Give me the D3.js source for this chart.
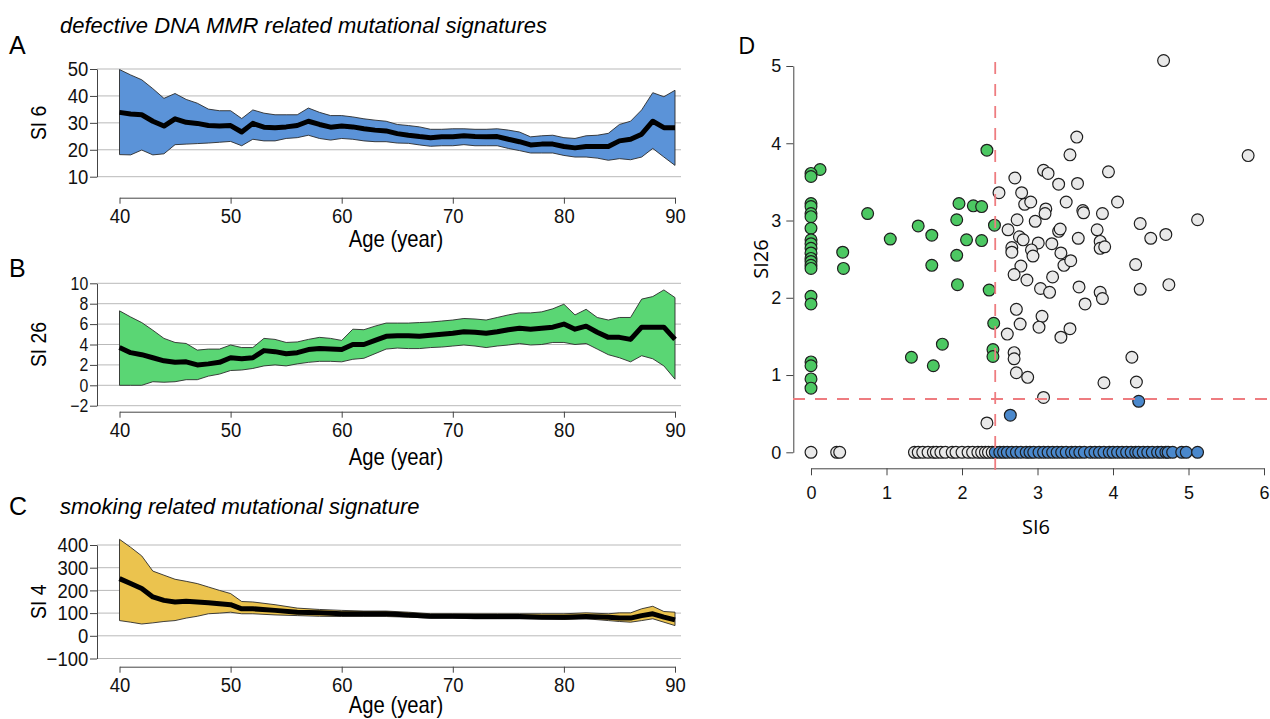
<!DOCTYPE html>
<html>
<head>
  <meta charset="UTF-8">
  <title>Mutational signatures</title>
  <script src="https://d3js.org/d3.v7.min.js"></script>
  <style>
    body { margin: 0; background: #fff; }
    .narrow { font-family: "Liberation Sans Narrow", "Arial Narrow", "Liberation Sans", sans-serif; }
    .open { font-family: "Open Sans", "DejaVu Sans", sans-serif; }
  </style>
</head>
<body>
  <div id="chart"></div>
  <script>
    // ---- data ----
    const ages = [40,41,42,43,44,45,46,47,48,49,50,51,52,53,54,55,56,57,58,59,60,61,62,63,64,65,66,67,68,69,70,
                  71,72,73,74,75,76,77,78,79,80,81,82,83,84,85,86,87,88,89,90];
    const ageTicks = [40, 50, 60, 70, 80, 90];

    // A: SI 6
    const si6Mean = [33.9,33.3,33.0,30.6,28.8,31.5,30.2,29.8,29.0,28.8, 29.0,26.6,29.8,28.4,28.2,28.5,29.0,30.6,29.4,28.4,
                     28.8,28.5,27.8,27.3,27.0,26.0,25.4,24.9,24.5,24.8, 24.8,25.2,24.9,24.8,24.9,23.9,23.0,21.8,22.1,22.1,
                     21.2,20.7,21.2,21.2,21.2,23.3,23.9,25.8,30.6,28.2, 28.2];
    const si6Hi = [49.8,47.8,46.0,42.7,39.1,40.9,38.7,37.3,35.1,34.5, 34.5,31.6,34.8,33.6,33.0,33.0,33.0,35.5,33.9,32.7,
                   32.7,32.2,31.5,31.0,30.6,29.4,29.0,28.5,27.6,27.6, 27.8,27.8,27.6,27.6,27.8,27.3,26.6,24.8,25.2,25.4,
                   24.5,24.2,25.2,25.4,26.1,29.4,30.6,34.8,41.2,39.7, 42.1];
    const si6Lo = [18.2,18.1,19.9,18.1,18.5,21.9,22.1,22.3,22.5,22.8, 23.1,21.5,23.9,23.3,23.3,24.2,24.5,25.4,24.2,23.6,
                   24.2,23.9,23.3,23.0,23.0,22.5,22.4,21.8,21.3,21.5, 21.5,21.9,21.5,21.5,21.5,20.5,19.7,18.8,18.8,18.8,
                   17.9,17.3,17.3,16.9,16.1,16.7,16.3,17.3,20.5,17.3, 14.2];
    const si6Ticks = [10, 20, 30, 40, 50];

    // B: SI 26
    const si26Mean = [3.7,3.2,3.0,2.7,2.4,2.25,2.3,2.0,2.1,2.25, 2.7,2.6,2.7,3.4,3.3,3.1,3.2,3.5,3.6,3.55,
                      3.5,4.0,4.0,4.4,4.8,4.85,4.85,4.8,4.9,5.0, 5.1,5.25,5.2,5.1,5.25,5.45,5.6,5.5,5.6,5.7,
                      6.0,5.5,5.8,5.2,4.7,4.7,4.5,5.7,5.7,5.7, 4.5];
    const si26Hi = [7.3,6.7,6.15,5.4,4.6,4.2,4.1,3.45,3.55,3.55, 3.95,3.7,3.7,4.6,4.5,4.2,4.25,4.5,4.7,4.6,
                    4.4,5.5,5.45,5.8,6.1,6.1,6.1,6.15,6.2,6.3, 6.4,6.55,6.5,6.4,6.65,6.9,7.1,7.1,7.2,7.5,
                    7.95,6.9,7.45,6.65,6.4,6.65,6.65,8.45,8.7,9.35, 8.6];
    const si26Lo = [0.0,0.0,0.0,0.35,0.3,0.35,0.55,0.55,0.9,1.1, 1.45,1.5,1.65,1.9,2.0,1.9,2.1,2.25,2.35,2.35,
                    2.3,2.55,2.65,3.1,3.55,3.65,3.6,3.6,3.7,3.75, 3.85,3.95,3.85,3.7,3.85,3.95,4.1,3.95,4.0,4.2,
                    4.2,4.0,4.1,3.55,3.0,2.7,2.3,2.9,2.6,1.9, 0.6];
    const si26Ticks = [-2, 0, 2, 4, 6, 8, 10];

    // C: SI 4
    const agesC = [40,41,42,43,44,45,46,47,48,49,50,51,52,54,56,58,60,62,64,66,68,70,72,74,76,78,80,82,84,85,86,87,88,89,90];
    const si4Mean = [252,230,208,171,156,149,152,149,146,141,137,119,119,112,104,101,97,97,97,92,86,86,85,85,85,82,82,85,82,78,78,89,97,82,70];
    const si4Hi = [425,390,352,285,267,249,240,230,215,200,186,151,149,137,122,116,112,109,109,104,97,97,97,97,97,97,97,101,97,101,101,119,130,107,104];
    const si4Lo = [67,60,52,57,63,67,78,86,97,100,104,97,97,92,89,86,85,85,85,82,78,78,75,75,75,75,72,75,67,63,60,67,75,60,45];
    const si4Ticks = [-100, 0, 100, 200, 300, 400];

    // D: SI6 vs SI26
    const grayPts = [[4.67,5.07],[3.52,4.08],[3.43,3.85],[5.79,3.84],[3.08,3.65],[3.14,3.61],[3.94,3.63],[2.70,3.55],
      [3.28,3.47],[3.53,3.48],[2.49,3.36],[2.79,3.36],[2.83,3.21],[2.91,3.24],[3.38,3.24],[3.11,3.15],[3.10,3.09],
      [3.60,3.13],[3.61,3.10],[3.86,3.09],[4.06,3.24],[2.73,3.01],[2.97,2.99],[2.61,2.88],[2.76,2.79],[2.81,2.75],
      [3.01,2.71],[3.19,2.70],[3.28,2.86],[3.30,2.89],[3.54,2.77],[3.79,2.88],[3.83,2.73],[3.83,2.64],[3.89,2.66],
      [4.36,2.96],[4.50,2.77],[4.70,2.82],[5.12,3.01],[2.66,2.65],[2.66,2.59],[2.92,2.62],[2.94,2.54],[3.31,2.58],
      [3.35,2.42],[3.44,2.48],[2.78,2.41],[2.69,2.30],[2.86,2.23],[3.20,2.27],[3.04,2.12],[3.16,2.07],[3.55,2.14],
      [3.63,1.92],[3.83,2.07],[3.86,1.99],[4.30,2.43],[4.36,2.11],[4.74,2.17],[2.72,1.85],[2.77,1.66],[2.60,1.53],
      [3.06,1.76],[3.02,1.62],[3.43,1.60],[3.31,1.49],[2.69,1.29],[2.69,1.21],[2.72,1.03],[2.87,0.97],[4.25,1.23],
      [3.88,0.90],[4.31,0.91],[3.08,0.71],[2.33,0.38]];
    const grayZero = [0,0.34,0.38,1.37,1.42,1.48,1.55,1.62,1.66,1.72,1.78,1.87,1.92,2.00,2.08,2.14,2.21,2.26,2.31,2.35,2.40];
    const greenPts = [[0.12,3.66],[0,3.61],[0,3.57],[0,3.22],[0,3.18],[0,3.09],[0,3.05],[0,2.90],[0,2.75],[0,2.70],
      [0,2.64],[0,2.58],[0,2.51],[0,2.47],[0,2.42],[0,2.38],[0,2.02],[0,1.92],[0,1.17],[0,1.12],[0,0.95],[0,0.83],
      [0.42,2.59],[0.43,2.38],[0.75,3.09],[1.05,2.76],[1.42,2.93],[1.60,2.81],[1.60,2.42],[1.93,3.01],[1.96,3.22],
      [1.93,2.55],[1.94,2.17],[2.06,2.75],[2.15,3.19],[2.26,3.18],[2.26,2.74],[2.33,3.91],[2.43,2.94],[2.36,2.10],
      [2.42,1.67],[1.74,1.40],[1.33,1.23],[1.62,1.12],[2.41,1.33],[2.41,1.24]];
    const bluePts = [[2.64,0.48],[4.34,0.66]];
    const blueZero = [2.44,2.50,2.55,2.60,2.66,2.72,2.78,2.85,2.90,2.95,3.02,3.08,3.14,3.20,3.26,3.32,3.38,3.45,3.50,
      3.56,3.62,3.70,3.76,3.82,3.88,3.95,4.00,4.06,4.12,4.18,4.24,4.30,4.34,4.40,4.46,4.52,4.59,4.64,4.70,4.73,4.79,
      4.91,4.97,5.12];
    const cutSI6 = 2.44, cutSI26 = 0.69;
    const dTicksX = [0, 1, 2, 3, 4, 5, 6];
    const dTicksY = [0, 1, 2, 3, 4, 5];

    // ---- drawing ----
    const W = 1270, H = 719;
    const narrowScale = "scale(0.88,1)";   // fake a condensed face
    const svg = d3.select("#chart").append("svg")
                  .attr("width", W).attr("height", H);

    const x = d3.scaleLinear().domain([40, 90]).range([119.5, 675]);

    function bandPanel(opt) {
      const g = svg.append("g").attr("class", "narrow");
      const y = d3.scaleLinear().domain(opt.domain).range([opt.yBottom, opt.yTop]);

      g.selectAll(".grid").data(opt.ticks).enter().append("line")
       .attr("x1", 97).attr("x2", 681)
       .attr("y1", d => y(d)).attr("y2", d => y(d))
       .attr("stroke", "#b9b9b9").attr("stroke-width", 1);

      const band = d3.area().x((d, i) => x(opt.ages[i]))
                     .y0((d, i) => y(opt.lo[i])).y1((d, i) => y(opt.hi[i]));
      g.append("path").datum(opt.mean).attr("d", band)
       .attr("fill", opt.color).attr("stroke", "#2b2b2b").attr("stroke-width", 0.9);

      const line = d3.line().x((d, i) => x(opt.ages[i])).y(d => y(d));
      g.append("path").datum(opt.mean).attr("d", line)
       .attr("fill", "none").attr("stroke", "#000").attr("stroke-width", 5)
       .attr("stroke-linejoin", "round");

      const ya = g.append("g").attr("transform", "translate(97,0)")
        .call(d3.axisLeft(y).tickValues(opt.ticks).tickSize(7).tickSizeOuter(0).tickPadding(3)
               .tickFormat(d => d < 0 ? "\u2212" + Math.abs(d) : d));
      const xa = g.append("g").attr("transform", `translate(0,${opt.axisY})`)
        .call(d3.axisBottom(x).tickValues(ageTicks).tickSize(6).tickSizeOuter(0).tickPadding(4));
      ya.selectAll("text").style("font-size", opt.yTickSize || "21px");
      xa.selectAll("text").style("font-size", "21px");
      [ya, xa].forEach(a => {
        a.selectAll("text").attr("fill", "#111").style("font-family", null)
         .attr("transform", narrowScale);
        a.selectAll("line").attr("stroke", "#444");
        a.select(".domain").attr("stroke", "#444");
      });

      g.append("text").attr("transform", `translate(46,${(opt.yTop + opt.yBottom) / 2}) rotate(-90) ${narrowScale}`)
       .attr("text-anchor", "middle").style("font-size", "22px").text(opt.ylab);
      g.append("text").attr("transform", `translate(396,${opt.ageY}) ${narrowScale}`)
       .attr("text-anchor", "middle").style("font-size", "23px").text("Age (year)");
      g.append("text").attr("x", 9).attr("y", opt.letterY)
       .style("font-size", "25px").text(opt.letter);
      if (opt.title) {
        g.append("text").attr("x", 60).attr("y", opt.titleY)
         .style("font-size", "22px").style("font-style", "italic").text(opt.title);
      }
    }

    bandPanel({ages: ages, mean: si6Mean, hi: si6Hi, lo: si6Lo, domain: [10, 50], ticks: si6Ticks,
               yTop: 69, yBottom: 176.7, axisY: 197.7, ageY: 247, color: "#5b93d8", ylab: "SI 6",
               letter: "A", letterY: 54, title: "defective DNA MMR related mutational signatures", titleY: 33});
    bandPanel({ages: ages, mean: si26Mean, hi: si26Hi, lo: si26Lo, domain: [-2, 10], ticks: si26Ticks,
               yTop: 283.3, yBottom: 405.7, axisY: 411.7, ageY: 465, color: "#5ad674", ylab: "SI 26",
               letter: "B", letterY: 277, yTickSize: "18px"});
    bandPanel({ages: agesC, mean: si4Mean, hi: si4Hi, lo: si4Lo, domain: [-100, 400], ticks: si4Ticks,
               yTop: 545, yBottom: 658.5, axisY: 666.7, ageY: 713, color: "#ebc34e", ylab: "SI 4",
               letter: "C", letterY: 515, title: "smoking related mutational signature", titleY: 514});

    // panel D
    const gd = svg.append("g").attr("class", "open");
    const xD = d3.scaleLinear().domain([0, 6]).range([811, 1264]);
    const yD = d3.scaleLinear().domain([0, 5]).range([452.3, 66]);

    const yaD = gd.append("g").attr("transform", "translate(793.3,0)")
      .call(d3.axisLeft(yD).tickValues(dTicksY).tickFormat(d3.format("d"))
              .tickSize(7).tickSizeOuter(0).tickPadding(5));
    const xaD = gd.append("g").attr("transform", "translate(0,468.3)")
      .call(d3.axisBottom(xD).tickValues(dTicksX).tickFormat(d3.format("d"))
              .tickSize(7).tickSizeOuter(0).tickPadding(11));
    [yaD, xaD].forEach(a => {
      a.selectAll("text").style("font-size", "18px").attr("fill", "#111").style("font-family", null);
      a.selectAll("line").attr("stroke", "#444");
      a.select(".domain").attr("stroke", "#444");
    });

    const dots = [
      {pts: grayPts.concat(grayZero.map(v => [v, 0])), fill: "#e9e9e9"},
      {pts: greenPts, fill: "#4cc862"},
      {pts: bluePts.concat(blueZero.map(v => [v, 0])), fill: "#4a88cc"}
    ];
    dots.forEach(grp => {
      gd.append("g").selectAll("circle").data(grp.pts).enter().append("circle")
        .attr("cx", d => xD(d[0])).attr("cy", d => yD(d[1])).attr("r", 5.9)
        .attr("fill", grp.fill).attr("stroke", "#1e1e1e").attr("stroke-width", 1.2);
    });

    gd.append("line").attr("x1", xD(cutSI6)).attr("x2", xD(cutSI6)).attr("y1", 62).attr("y2", 473)
      .attr("stroke", "#ee7c80").attr("stroke-width", 1.8).attr("stroke-dasharray", "12,10");
    gd.append("line").attr("x1", 793).attr("x2", 1270).attr("y1", yD(cutSI26)).attr("y2", yD(cutSI26))
      .attr("stroke", "#ee7c80").attr("stroke-width", 1.8).attr("stroke-dasharray", "12,10");

    gd.append("text").attr("transform", "translate(768,259) rotate(-90)")
      .attr("text-anchor", "middle").style("font-size", "20px").text("SI26");
    gd.append("text").attr("x", 1036).attr("y", 534)
      .attr("text-anchor", "middle").style("font-size", "20px").text("SI6");
    gd.append("text").attr("x", 738).attr("y", 54)
      .style("font-size", "24px").text("D");
  </script>
</body>
</html>
